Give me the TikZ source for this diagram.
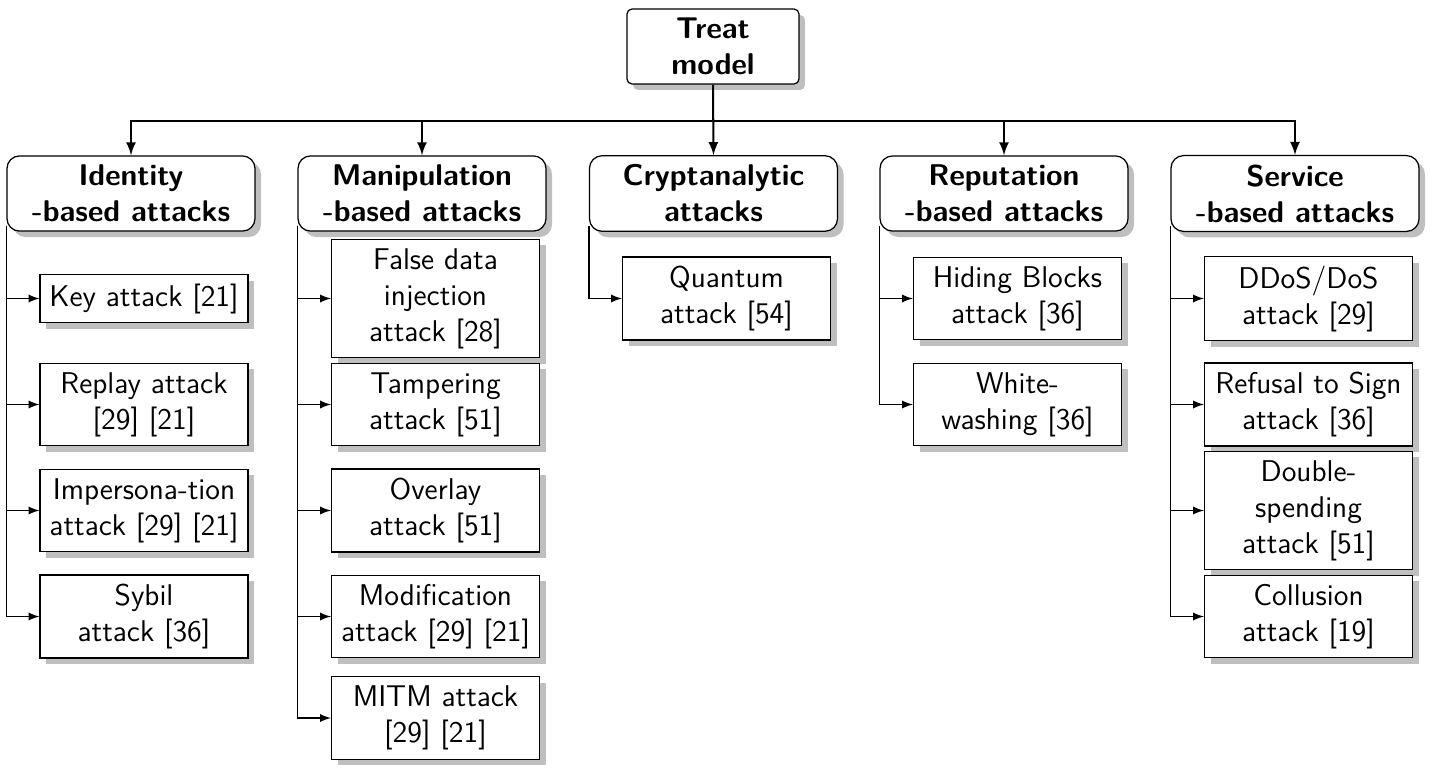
\documentclass[tikz,border=0pt]{standalone}
\usetikzlibrary{arrows,shadows}

\begin{document}
\begin{tikzpicture}[x=0.4pt,y=-0.4pt,>=latex,
  every node/.style={font=\fontsize{12}{14.4}\selectfont\sffamily,align=center,inner xsep=2pt,inner ysep=3.6pt},
  boxshadow/.style={drop shadow={shadow xshift=2.4pt,shadow yshift=-2.4pt,opacity=1,fill=black!25}},
  rootbox/.style={draw,line width=0.5pt,fill=white,rounded corners=2pt,minimum width=68.8pt,font=\fontsize{12}{14.4}\selectfont\sffamily\bfseries,boxshadow},
  catbox/.style={draw,line width=0.5pt,fill=white,rounded corners=5pt,minimum width=99.2pt,font=\fontsize{12}{14.4}\selectfont\sffamily\bfseries,boxshadow},
  leaf/.style={draw,line width=0.5pt,fill=white,minimum width=83.2pt,boxshadow},
  tree/.style={->,line width=0.8pt},
  branch/.style={->,line width=0.5pt}]
\useasboundingbox (0,0) rectangle (1434,769);
% root
\node[rootbox] (root) at (713,46.5) {Treat\\model};
% categories
\node[catbox] (ident) at (131,193.5) {Identity\\-based attacks};
\node[catbox] (manip) at (422,193.5) {Manipulation\\-based attacks};
\node[catbox] (crypt) at (713.5,193.5) {Cryptanalytic\\attacks};
\node[catbox] (reput) at (1004,193.5) {Reputation\\-based attacks};
\node[catbox] (serv) at (1295,193.5) {Service\\-based attacks};
% identity-based
\node[leaf] (key) at (144,298.5) {Key attack [21]};
\node[leaf] (replay) at (144,404.5) {Replay attack\\{}[29] [21]};
\node[leaf] (imper) at (144,510.5) {Impersona-tion\\attack [29] [21]};
\node[leaf] (sybil) at (144,616.5) {Sybil\\attack [36]};
% manipulation-based
\node[leaf] (fdi) at (435.5,298.5) {False data\\injection\\attack [28]};
\node[leaf] (tamper) at (435.5,404.5) {Tampering\\attack [51]};
\node[leaf] (overlay) at (435.5,510.5) {Overlay\\attack [51]};
\node[leaf] (modif) at (435.5,616.5) {Modification\\attack [29] [21]};
\node[leaf] (mitm) at (435.5,718) {MITM attack\\{}[29] [21]};
% cryptanalytic
\node[leaf] (quantum) at (726.5,298.5) {Quantum\\attack [54]};
% reputation-based
\node[leaf] (hiding) at (1017.5,298.5) {Hiding Blocks\\attack [36]};
\node[leaf] (white) at (1017.5,404.5) {White-\\washing [36]};
% service-based
\node[leaf] (ddos) at (1308.5,298.5) {DDoS/DoS\\attack [29]};
\node[leaf] (refusal) at (1308.5,404.5) {Refusal to Sign\\attack [36]};
\node[leaf] (double) at (1308.5,510.5) {Double-\\spending\\attack [51]};
\node[leaf] (collus) at (1308.5,616.5) {Collusion\\attack [19]};
% root to categories
\draw[tree] (root.south) -- ++(0,36) -| (ident.north);
\draw[tree] (root.south) -- ++(0,36) -| (manip.north);
\draw[tree] (root.south) -- (crypt.north);
\draw[tree] (root.south) -- ++(0,36) -| (reput.north);
\draw[tree] (root.south) -- ++(0,36) -| (serv.north);
% categories to attacks
\draw[branch] ([yshift=2.4pt]ident.south west) |- (key.west);
\draw[branch] ([yshift=2.4pt]ident.south west) |- (replay.west);
\draw[branch] ([yshift=2.4pt]ident.south west) |- (imper.west);
\draw[branch] ([yshift=2.4pt]ident.south west) |- (sybil.west);
\draw[branch] ([yshift=2.4pt]manip.south west) |- (fdi.west);
\draw[branch] ([yshift=2.4pt]manip.south west) |- (tamper.west);
\draw[branch] ([yshift=2.4pt]manip.south west) |- (overlay.west);
\draw[branch] ([yshift=2.4pt]manip.south west) |- (modif.west);
\draw[branch] ([yshift=2.4pt]manip.south west) |- (mitm.west);
\draw[branch] ([yshift=2.4pt]crypt.south west) |- (quantum.west);
\draw[branch] ([yshift=2.4pt]reput.south west) |- (hiding.west);
\draw[branch] ([yshift=2.4pt]reput.south west) |- (white.west);
\draw[branch] ([yshift=2.4pt]serv.south west) |- (ddos.west);
\draw[branch] ([yshift=2.4pt]serv.south west) |- (refusal.west);
\draw[branch] ([yshift=2.4pt]serv.south west) |- (double.west);
\draw[branch] ([yshift=2.4pt]serv.south west) |- (collus.west);
\end{tikzpicture}
\end{document}
